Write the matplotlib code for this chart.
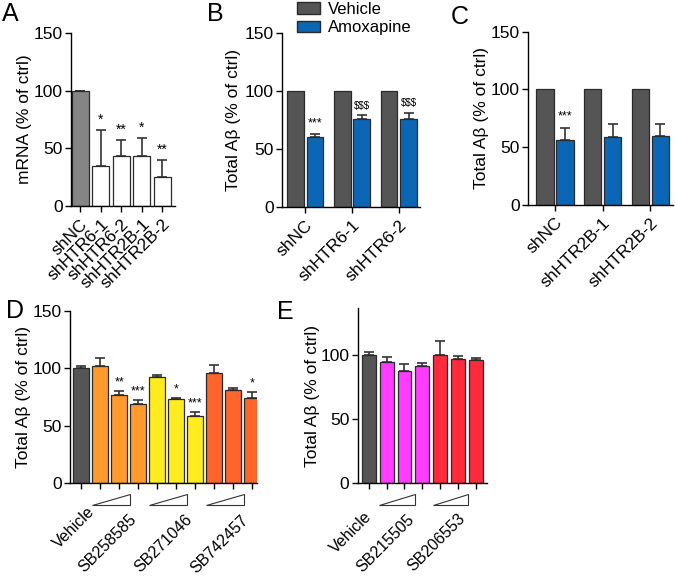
import matplotlib
matplotlib.use("Agg")
import matplotlib.pyplot as plt
import matplotlib.transforms as mtransforms
from matplotlib.patches import Polygon, Patch
import numpy as np

plt.rcParams['font.family'] = ['Liberation Sans', 'DejaVu Sans']
plt.rcParams['axes.linewidth'] = 1.0

# -------------------------
# DATA
# -------------------------

# panel A
a_labels = ["shNC", "shHTR6-1", "shHTR6-2", "shHTR2B-1", "shHTR2B-2"]
a_means = [100, 35, 43, 43, 25]
a_err = [0, 31, 14, 16, 15]
a_sig = ["", "*", "**", "*", "**"]

# panel B
b_labels = ["shNC", "shHTR6-1", "shHTR6-2"]
b_vehicle = [100, 100, 100]
b_amox = [60, 76, 76]
b_amox_err = [3, 3, 5]
b_sig = ["***", "$$$", "$$$"]

# panel C
c_labels = ["shNC", "shHTR2B-1", "shHTR2B-2"]
c_vehicle = [100, 100, 100]
c_amox = [56, 59, 60]
c_amox_err = [11, 11, 10]
c_sig = ["***", "", ""]

# panel D
d_means = [100, 102, 77, 69, 92, 73, 58, 96, 81, 74]
d_err = [2, 7, 3.5, 3.5, 2.5, 1.2, 4, 7, 2, 5.5]
d_sig = ["", "", "**", "***", "", "*", "***", "", "", "*"]
d_groups = ["Vehicle", "SB258585", "SB271046", "SB742457"]
d_group_idx = [[0], [1, 2, 3], [4, 5, 6], [7, 8, 9]]

# panel E
e_means = [100, 94.5, 88, 91.5, 100.5, 97.5, 96]
e_err = [2.3, 4.3, 5.6, 2.5, 11, 2.2, 2.2]
e_groups = ["Vehicle", "SB215505", "SB206553"]
e_group_idx = [[0], [1, 2, 3], [4, 5, 6]]

GRAY = "#555555"
BLUE = "#0b67b6"
EDGE = "#2a2a2a"
d_group_colors = [GRAY, "#ff9a2c", "#ffec1e", "#ff642a"]
e_group_colors = [GRAY, "#ff3cff", "#ff2b3c"]

TICK_FS = 12.5
LABEL_FS = 12.5


def style(ax, ymax, yticks):
    ax.spines["top"].set_visible(False)
    ax.spines["right"].set_visible(False)
    ax.set_ylim(0, ymax)
    ax.set_yticks(yticks)
    ax.tick_params(axis="y", labelsize=TICK_FS, length=4, width=1, pad=2)
    ax.tick_params(axis="x", length=4, width=1)


def upper_err(ax, x, top, err):
    ax.errorbar(x, top, yerr=[np.zeros(len(err)), err], fmt="none",
                ecolor="#333333", elinewidth=1.2, capsize=3.5, capthick=1.2, zorder=1)


fig = plt.figure(figsize=(6.75, 5.77), dpi=100)

# -------------------------
# A
# -------------------------
axA = fig.add_axes([0.105, 0.643, 0.154, 0.300])
xa = np.arange(len(a_labels))
colsA = ["#858585"] + ["white"] * (len(a_labels) - 1)
upper_err(axA, xa, a_means, a_err)
axA.bar(xa, a_means, width=0.82, color=colsA, edgecolor=EDGE, linewidth=0.9, zorder=2)
for x, m, e, s in zip(xa, a_means, a_err, a_sig):
    axA.text(x, m + e + 3, s, ha="center", va="bottom", fontsize=10)
axA.set_xlim(-0.45, 4.6)
style(axA, 150, [0, 50, 100, 150])
axA.set_xticks(xa)
axA.set_xticklabels(a_labels, rotation=45, ha="right", rotation_mode="anchor", fontsize=TICK_FS)
axA.set_ylabel("mRNA (% of ctrl)", fontsize=LABEL_FS, labelpad=1)

# -------------------------
# B and C
# -------------------------
def grouped(ax, labels, veh, amox, amox_err, sig, xlim, pad):
    xg = np.arange(len(labels))
    off = 0.21
    upper_err(ax, xg + off, amox, amox_err)
    ax.bar(xg - off, veh, width=0.36, color=GRAY, edgecolor=EDGE, linewidth=0.9, zorder=2)
    ax.bar(xg + off, amox, width=0.36, color=BLUE, edgecolor=EDGE, linewidth=0.9, zorder=2)
    for x, m, e, s in zip(xg, amox, amox_err, sig):
        ax.text(x + off, m + e + 4, s, ha="center", va="bottom",
                fontsize=7 if s.startswith("$") else 9)
    ax.set_xlim(*xlim)
    style(ax, 150, [0, 50, 100, 150])
    ax.set_xticks(xg)
    ax.set_xticklabels(labels, rotation=45, ha="right", rotation_mode="anchor", fontsize=TICK_FS)
    ax.set_ylabel("Total A\u03b2 (% of ctrl)", fontsize=LABEL_FS, labelpad=pad)


axB = fig.add_axes([0.418, 0.641, 0.204, 0.302])
grouped(axB, b_labels, b_vehicle, b_amox, b_amox_err, b_sig, (-0.49, 2.45), 3)

axC = fig.add_axes([0.782, 0.645, 0.215, 0.300])
grouped(axC, c_labels, c_vehicle, c_amox, c_amox_err, c_sig, (-0.57, 2.48), 1)

fig.legend(handles=[Patch(facecolor=GRAY, edgecolor=EDGE, label="Vehicle"),
                    Patch(facecolor=BLUE, edgecolor=EDGE, label="Amoxapine")],
           loc="upper left", bbox_to_anchor=(0.425, 1.014), frameon=False,
           fontsize=12, handlelength=1.4, handleheight=0.7, handletextpad=0.45,
           labelspacing=0.2, borderaxespad=0.2)


# -------------------------
# D and E
# -------------------------
def dose_panel(ax, means, err, sig, groups, group_idx, colors, width, lab_dx, lab_y):
    x = np.arange(len(means))
    cols = [None] * len(means)
    for idx, c in zip(group_idx, colors):
        for i in idx:
            cols[i] = c
    upper_err(ax, x, means, err)
    ax.bar(x, means, width=width, color=cols, edgecolor=EDGE, linewidth=0.9, zorder=2)
    if sig is not None:
        for xi, m, e, s in zip(x, means, err, sig):
            ax.text(xi, m + e + 2, s, ha="center", va="bottom", fontsize=9)
    ax.set_xticks(x)
    ax.set_xticklabels([])
    trans = mtransforms.blended_transform_factory(ax.transData, ax.transAxes)
    for name, idx, dx, ly in zip(groups, group_idx, lab_dx, lab_y):
        xm = idx[len(idx) // 2]
        ax.text(xm + dx, ly, name, transform=trans, rotation=45, ha="right", va="top",
                rotation_mode="anchor", fontsize=11.5, clip_on=False)
        if len(idx) > 1:
            # dose wedge under each group
            x0 = idx[0] - 0.43
            x1 = x0 + 2.0
            tri = Polygon([(x0, -0.128), (x1, -0.128), (x1, -0.064)], closed=True,
                          facecolor="white", edgecolor="#333333", linewidth=0.8,
                          transform=trans, clip_on=False)
            ax.add_patch(tri)


axD = fig.add_axes([0.104, 0.163, 0.277, 0.298])
dose_panel(axD, d_means, d_err, d_sig, d_groups, d_group_idx, d_group_colors,
           0.86, [0.3, 0.5, 0.45, 0.4], [-0.125, -0.165, -0.17, -0.17])
axD.set_xlim(-0.58, 9.26)
style(axD, 150, [0, 50, 100, 150])
axD.set_ylabel("Total A\u03b2 (% of ctrl)", fontsize=LABEL_FS, labelpad=1)

axE = fig.add_axes([0.530, 0.163, 0.191, 0.303])
dose_panel(axE, e_means, e_err, None, e_groups, e_group_idx, e_group_colors,
           0.78, [-0.25, 0.1, -0.03], [-0.15, -0.165, -0.16])
axE.set_xlim(-0.61, 6.59)
style(axE, 137, [0, 50, 100])
axE.set_ylabel("Total A\u03b2 (% of ctrl)", fontsize=LABEL_FS, labelpad=0)

# -------------------------
# PANEL LETTERS
# -------------------------
for letter, x, y in [("A", 0.003, 0.997), ("B", 0.306, 0.997), ("C", 0.668, 0.992),
                     ("D", 0.009, 0.482), ("E", 0.41, 0.48)]:
    fig.text(x, y, letter, fontsize=18, ha="left", va="top")

fig.savefig("out.png", dpi=100)
